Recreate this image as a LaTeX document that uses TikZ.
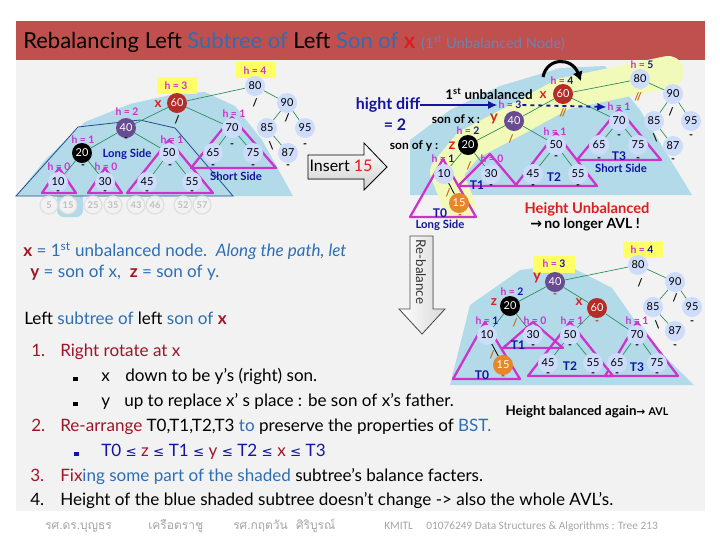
\documentclass[tikz,border=0pt]{standalone}
\usepackage{fontspec}
\setmainfont{Lato}
\newfontfamily\thaifont[Script=Thai]{Loma}
\newfontfamily\footfont{Carlito}
\newfontfamily\dvs{DejaVu Sans}
\usetikzlibrary{arrows.meta}
\pgfdeclarelayer{bg}
\pgfdeclarelayer{mid}
\pgfsetlayers{bg,mid,main}
\newcommand{\myfs}[1]{\fontsize{#1}{#1}\selectfont}
\definecolor{barred}{RGB}{192,80,77}
\definecolor{slidebg}{RGB}{242,242,242}
\definecolor{tblue}{RGB}{46,110,180}
\definecolor{sblue}{RGB}{110,130,175}
\definecolor{dred}{RGB}{160,20,40}
\definecolor{redx}{RGB}{220,30,30}
\definecolor{navy}{RGB}{20,20,160}
\definecolor{mag}{RGB}{204,51,204}
\definecolor{hlyel}{RGB}{255,255,102}
\definecolor{shadeblue}{RGB}{178,218,232}
\definecolor{bandyel}{RGB}{242,250,185}
\definecolor{nodeb}{RGB}{205,220,250}
\definecolor{edgeg}{RGB}{40,140,90}
\definecolor{redn}{RGB}{180,45,40}
\definecolor{purn}{RGB}{105,75,145}
\definecolor{orn}{RGB}{230,135,45}
\definecolor{foot}{RGB}{165,165,165}
\definecolor{brn}{RGB}{200,100,0}
\definecolor{outl}{RGB}{30,80,140}
\begin{document}
\begin{tikzpicture}[x=0.75pt,y=-0.75pt,
 tn/.style={circle,inner sep=0pt,minimum size=15pt,fill=nodeb,font=\myfs{8.2}},
 rn/.style={tn,fill=redn,text=white},
 pn/.style={tn,fill=purn,text=white},
 kn/.style={tn,fill=black,text=white},
 on/.style={tn,fill=orn,text=white},
 lf/.style={circle,inner sep=0pt,minimum size=13.5pt,draw=gray!25,line width=0.9pt,fill=slidebg,text=gray!50,font=\myfs{7}\bfseries},
 ed/.style={draw=edgeg,line width=0.5pt},
 tri/.style={draw=mag,line width=1.7pt,line join=round},
 hl/.style={text=mag,font=\myfs{7.8}\bfseries,inner sep=0.5pt},
 bm/.style={font=\myfs{8}\bfseries,inner sep=0pt},
 side/.style={text=navy,font=\myfs{8.5}\bfseries,inner sep=0pt},
 tl/.style={text=navy,font=\myfs{9}\bfseries,inner sep=0pt},
 letter/.style={text=redx,font=\myfs{10}\bfseries,inner sep=0pt},
 txt/.style={anchor=base west,inner sep=0pt,font=\myfs{12.8}},
 ftxt/.style={anchor=base west,inner sep=0pt,text=foot,font=\myfs{8.5}},
 blk/.style={text=black,font=\myfs{9}\bfseries,inner sep=0pt},
]
\useasboundingbox (0,0) rectangle (720,540);
\begin{pgfonlayer}{bg}
\fill[white] (0,0) rectangle (720,540);
\fill[slidebg] (16,60) rectangle (705,511);
\fill[barred] (16,21) rectangle (705,60);
\end{pgfonlayer}
\node[anchor=base west,inner sep=0pt,font=\myfs{16.5}] (title) at (23,48)
 {Rebalancing Left \textcolor{tblue}{Subtree of} Left \textcolor{tblue}{Son of} \textcolor{redx}{\textbf{x}} {\myfs{11}\textcolor{sblue}{(1\textsuperscript{st} Unbalanced Node)}}};

% ---------------- top-left tree ----------------
\node[tn] (A80) at (255,86) {80};
\node[tn] (A90) at (287,103) {90};
\node[tn] (A85) at (267,128) {85};
\node[tn] (A95) at (305,128) {95};
\node[tn] (A87) at (288,153) {87};
\node[rn] (A60) at (177,103) {60};
\node[pn] (A40) at (126,128) {40};
\node[tn] (A70) at (232,128) {70};
\node[kn] (A20) at (82,153) {20};
\node[tn] (A50) at (169,153) {50};
\node[tn] (A65) at (213,153) {65};
\node[tn] (A75) at (253,153) {75};
\node[tn] (A10) at (58,182) {10};
\node[tn] (A30) at (105,182) {30};
\node[tn] (A45) at (147,182) {45};
\node[tn] (A55) at (192,182) {55};
\node[lf] (L5) at (49,205) {5};
\node[lf] (L15) at (68,205) {15};
\node[lf] (L25) at (93,205) {25};
\node[lf] (L35) at (113,205) {35};
\node[lf] (L43) at (136,205) {43};
\node[lf] (L46) at (155,205) {46};
\node[lf] (L52) at (183,205) {52};
\node[lf] (L57) at (202,205) {57};
\node[hl] (Ah4) at (255,71) {h = 4};
\node[hl] (Ah3) at (176,86) {h = 3};
\node[hl] (Ah2) at (127,112) {h = 2};
\node[hl] (Ah20) at (83,140) {h = 1};
\node[hl] (Ah50) at (172,140) {h = 1};
\node[hl] (Ah70) at (234,114) {h = 1};
\node[hl] (Ah10) at (59,167) {h = 0};
\node[hl] (Ah30) at (106,167) {h = 0};
\node[letter] (Ax) at (158,104) {x};
\node[bm] (Ab80) at (255,103) {/};
\node[bm] (Ab90) at (287,118) {/};
\node[bm] (Ab85) at (271,146) {\textbackslash};
\node[bm] (Ab95) at (305,146) {-};
\node[bm] (Ab87) at (288,167) {-};
\node[bm] (Ab60) at (177,120) {/};
\node[bm] (Ab40) at (126,140) {-};
\node[bm] (Ab20) at (83,167) {-};
\node[bm] (Ab50) at (170,167) {-};
\node[bm] (Ab70) at (232,146) {-};
\node[bm] (Ab65) at (213,167) {-};
\node[bm] (Ab75) at (253,167) {-};
\node[bm] (Ab10) at (58,193) {-};
\node[bm] (Ab30) at (105,193) {-};
\node[bm] (Ab45) at (147,193) {-};
\node[bm] (Ab55) at (192,193) {-};
\node[side] (Along) at (127,154) {Long Side};
\node[side] (Ashort) at (236,176) {Short Side};

% ---------------- middle tree ----------------
\node[tn] (B80) at (640,79) {80};
\node[tn] (B90) at (673,94) {90};
\node[tn] (B85) at (654,121) {85};
\node[tn] (B95) at (691,121) {95};
\node[tn] (B87) at (673,146) {87};
\node[rn] (B60) at (563,94) {60};
\node[pn] (B40) at (514,121) {40};
\node[tn] (B70) at (619,121) {70};
\node[kn] (B20) at (468,145) {20};
\node[tn] (B50) at (556,145) {50};
\node[tn] (B65) at (599,145) {65};
\node[tn] (B75) at (638,145) {75};
\node[tn] (B10) at (444,174) {10};
\node[tn] (B30) at (491,174) {30};
\node[tn] (B45) at (533,174) {45};
\node[tn] (B55) at (578,174) {55};
\node[on] (B15) at (459,203) {15};
\node[hl] (Bh5) at (642,65) {h = \textcolor{navy}{5}};
\node[hl] (Bh4) at (562,81) {h = \textcolor{navy}{4}};
\node[hl] (Bh3) at (510,105) {h = \textcolor{navy}{3}};
\node[hl] (Bh2) at (468,131) {h = \textcolor{navy}{2}};
\node[hl] (Bh10) at (443,159) {h = \textcolor{navy}{1}};
\node[hl] (Bh30) at (492,159) {h = 0};
\node[hl] (Bh50) at (555,132) {h = 1};
\node[hl] (Bh70) at (619,107) {h = 1};
\node[letter] (Bx) at (543,95) {x};
\node[letter,font=\myfs{11}\bfseries] (By) at (494,119) {y};
\node[letter,font=\myfs{11}\bfseries] (Bz) at (452,146) {z};
\node[bm,text=brn] (Bb80) at (638,97) {//};
\node[bm,text=brn] (Bb60) at (563,113) {//};
\node[bm,text=brn] (Bb40) at (511,139) {/};
\node[bm,text=brn] (Bb20) at (469,166) {/};
\node[bm,text=brn] (Bb10) at (448,193) {/};
\node[bm,text=redx] (Bb15) at (460,217) {-};
\node[bm] (Bb30) at (491,187) {-};
\node[bm] (Bb50) at (556,158) {-};
\node[bm] (Bb45) at (533,187) {-};
\node[bm] (Bb55) at (578,187) {-};
\node[bm] (Bb70) at (619,137) {-};
\node[bm] (Bb65) at (599,160) {-};
\node[bm] (Bb75) at (638,160) {-};
\node[bm] (Bb90) at (671,112) {/};
\node[bm] (Bb85) at (655,138) {\textbackslash};
\node[bm] (Bb95) at (691,137) {-};
\node[bm] (Bb87) at (673,161) {-};
\node[tl] (BT0) at (440,213) {T0};
\node[tl] (BT1) at (477,185) {T1};
\node[tl] (BT2) at (554,177) {T2};
\node[tl] (BT3) at (619,156) {T3};
\node[side] (Blong) at (440,225) {Long Side};
\node[side] (Bshort) at (621,168) {Short Side};
\node[blk,font=\myfs{10}\bfseries] (unb) at (489,94) {1\textsuperscript{st} unbalanced};
\node[blk] (sox) at (456,119) {son of x :};
\node[blk] (soy) at (414,146) {son of y :};
\node[inner sep=0pt,text=navy,font=\myfs{12}\bfseries] (hd) at (388,105) {hight diff};
\node[inner sep=0pt,text=navy,font=\myfs{12}\bfseries] (eq2) at (395,125) {= 2};
\node[inner sep=0pt,text=redx,font=\myfs{11}\bfseries] (hu) at (587,209) {Height Unbalanced};
\node[inner sep=0pt,font=\myfs{10.5}\bfseries] (nl) at (585,225) {{\dvs\char"2192}\,no longer AVL !};
\draw[-{Latex[length=7pt,width=6pt]},navy,line width=1.8pt] (hd.east) -- (Bh3.west);
\draw[-{Latex[length=7pt,width=6pt]},navy,line width=1.4pt,dashed] (Bh3.east) -- (Bh70.west);
\coordinate (ca) at (543,77);
\coordinate (cb) at (581,81);
\draw[-{Latex[length=7pt,width=8pt]},line width=2.3pt] (ca) .. controls (547,57) and (572,57) .. (cb);

% Insert arrow
\fill[top color=white,bottom color=gray!35,draw=black,line width=0.6pt] (308,155) -- (364,155) -- (364,143) -- (387,167) -- (364,190) -- (364,179) -- (308,179) -- cycle;
\node[inner sep=0pt,font=\myfs{12}] (ins) at (341,166) {Insert \textcolor{redx}{15}};

% Re-balance arrow
\fill[left color=white,right color=gray!30,draw=black!70,line width=0.6pt] (410,236) -- (433,236) -- (433,309) -- (445,309) -- (422,334) -- (399,309) -- (410,309) -- cycle;
\node[inner sep=0pt,rotate=-90,font=\myfs{10},text=black!80] (reb) at (421,272) {Re-balance};

% ---------------- bottom-right tree ----------------
\node[tn] (C80) at (638,265) {80};
\node[tn] (C90) at (675,282) {90};
\node[tn] (C85) at (653,307) {85};
\node[tn] (C95) at (692,307) {95};
\node[tn] (C87) at (675,331) {87};
\node[pn] (C40) at (555,282) {40};
\node[kn] (C20) at (510,306) {20};
\node[rn] (C60) at (597,308) {60};
\node[tn] (C10) at (487,335) {10};
\node[tn] (C30) at (533,335) {30};
\node[tn] (C50) at (570,335) {50};
\node[tn] (C70) at (637,335) {70};
\node[on] (C15) at (503,365) {15};
\node[tn] (C45) at (548,363) {45};
\node[tn] (C55) at (593,363) {55};
\node[tn] (C65) at (617,363) {65};
\node[tn] (C75) at (657,363) {75};
\node[hl] (Ch4) at (642,250) {h = \textcolor{navy}{4}};
\node[hl] (Ch3) at (554,264) {h = \textcolor{navy}{3}};
\node[hl] (Ch2) at (512,292) {h = \textcolor{navy}{2}};
\node[hl] (Ch10) at (487,321) {h = \textcolor{navy}{1}};
\node[hl] (Ch30) at (535,321) {h = 0};
\node[hl] (Ch50) at (572,321) {h = 1};
\node[hl] (Ch70) at (637,321) {h = 1};
\node[letter,font=\myfs{11}\bfseries] (Cy) at (537,278) {y};
\node[letter] (Cz) at (494,302) {z};
\node[letter] (Cx) at (579,302) {x};
\node[bm] (Cb80) at (640,283) {/};
\node[bm] (Cb90) at (675,298) {/};
\node[bm] (Cb85) at (657,325) {\textbackslash};
\node[bm] (Cb95) at (692,323) {-};
\node[bm] (Cb87) at (675,347) {-};
\node[bm,text=redn] (Cb40) at (555,296) {-};
\node[bm,text=brn] (Cb20) at (515,323) {/};
\node[bm,text=redn] (Cb60) at (597,323) {-};
\node[bm,text=brn] (Cb10) at (492,355) {/};
\node[bm,text=redx] (Cb15) at (503,378) {-};
\node[bm] (Cb30) at (533,347) {-};
\node[bm] (Cb50) at (570,347) {-};
\node[bm] (Cb45) at (548,375) {-};
\node[bm] (Cb55) at (593,375) {-};
\node[bm] (Cb70) at (637,347) {-};
\node[bm] (Cb65) at (617,375) {-};
\node[bm] (Cb75) at (657,375) {-};
\node[tl] (CT0) at (482,375) {T0};
\node[tl] (CT1) at (518,345) {T1};
\node[tl] (CT2) at (570,366) {T2};
\node[tl] (CT3) at (637,367) {T3};
\node[inner sep=0pt,font=\myfs{10}\bfseries] (hba) at (587,412) {Height balanced again{\dvs\myfs{8}\char"2192} {\myfs{8}AVL}};

% ---------------- text block ----------------
\node[txt] (l1) at (23,256) {\textcolor{dred}{\textbf{x}} \textcolor{tblue}{= 1\textsuperscript{st} unbalanced node.\ \ \textit{Along the path, let}}};
\node[txt] (l2) at (30,277) {\textcolor{dred}{\textbf{y}} \textcolor{tblue}{= son of x,\ \ }\textcolor{dred}{\textbf{z}} \textcolor{tblue}{= son of y.}};
\node[txt] (l3) at (24,324) {Left \textcolor{tblue}{subtree of} left \textcolor{tblue}{son of} \textcolor{dred}{\textbf{x}}};
\node[txt,text=dred] (n1) at (31,356) {1.};
\node[txt,text=dred] (r1) at (60,356) {Right rotate at x};
\node[txt] (b1) at (73,381) {\rule{3.2pt}{3.2pt}};
\node[txt] (b1x) at (101,381) {x};
\node[txt] (b1t) at (125,381) {down to be y's (right) son.};
\node[txt] (b2) at (73,406) {\rule{3.2pt}{3.2pt}};
\node[txt] (b2y) at (101,406) {y};
\node[txt] (b2t) at (124,406) {up to replace x' s place : be son of x's father.};
\node[txt,text=dred] (n2) at (31,431) {2.};
\node[txt] (r2) at (60,431) {\textcolor{dred}{Re-arrange} T0,T1,T2,T3 \textcolor{tblue}{to} preserve the properties of \textcolor{tblue}{BST.}};
\node[txt,text=navy] (b3) at (74,456) {\rule{3.2pt}{3.2pt}};
\node[txt,text=navy] (b3t) at (101,456) {T0 {\dvs\myfs{10}≤} \textcolor{dred}{z} {\dvs\myfs{10}≤} T1 {\dvs\myfs{10}≤} \textcolor{dred}{y} {\dvs\myfs{10}≤} T2 {\dvs\myfs{10}≤} \textcolor{dred}{x} {\dvs\myfs{10}≤} T3};
\node[txt,text=dred] (n3) at (30,481) {3.};
\node[txt] (r3) at (60,481) {\textcolor{dred}{Fix}\textcolor{tblue}{ing some part of the shaded} subtree's balance facters.};
\node[txt] (n4) at (30,505) {4.};
\node[txt] (r4) at (60,505) {Height of the blue shaded subtree doesn't change -> also the whole AVL's.};

% footer
\node[ftxt,font=\thaifont\myfs{9}] (f1) at (45,529) {รศ.ดร.บุญธร};
\node[ftxt,font=\thaifont\myfs{9}] (f2) at (148,529) {เครือตราชู};
\node[ftxt,font=\thaifont\myfs{9}] (f3) at (233,529) {รศ.กฤตวัน\ \ ศิริบูรณ์};
\node[ftxt,font=\footfont\myfs{8.5}] (f4) at (384,529) {KMITL};
\node[ftxt,font=\footfont\myfs{8.5}] (f5) at (426,529) {01076249 Data Structures \& Algorithms : Tree 213};

% ---------------- background shading ----------------
\begin{pgfonlayer}{bg}
\fill[shadeblue] (16,196) -- (45,160) -- (85,122) -- (130,104) -- (175,94) -- (205,92) -- (235,106) -- (262,140) -- (293,196) -- cycle;
\fill[shadeblue,rounded corners=5pt] (57,190) rectangle (83,217);
\draw[outl,line width=0.6pt] (16,196) -- (78,127) -- (140,120) -- (175,128) -- (233,196) -- cycle;
\fill[hlyel] (236,62) rectangle (276,78);
\fill[hlyel] (157,77) rectangle (197,94);
\fill[shadeblue] (410,195) -- (410,140) -- (450,110) -- (500,86) -- (560,68) -- (605,66) -- (640,110) -- (692,195) -- cycle;
\draw[bandyel,line width=24pt,line cap=round,line join=round] (668,72) -- (563,94) -- (514,121) -- (468,145) -- (446,172) -- (459,205);
\fill[shadeblue] (450,385) -- (470,305) -- (520,270) -- (565,264) -- (612,288) -- (650,342) -- (694,385) -- cycle;
\fill[hlyel] (533,256) rectangle (575,273);
\fill[hlyel] (623,242) rectangle (663,258);
\end{pgfonlayer}

% ---------------- edges and triangles ----------------
\begin{pgfonlayer}{mid}
\foreach \p/\c in {80/60,80/90,90/85,90/95,85/87,60/40,60/70,40/20,40/50,20/10,20/30,50/45,50/55,70/65,70/75}{
  \draw[ed] (A\p) -- (A\c);
  \draw[ed] (B\p) -- (B\c);}
\draw[black,line width=0.6pt] (B10) -- (B15);
\foreach \p/\c in {80/40,80/90,90/85,90/95,85/87,40/20,40/60,20/10,20/30,60/50,60/70,50/45,50/55,70/65,70/75}{
  \draw[ed] (C\p) -- (C\c);}
\draw[black,line width=0.6pt] (C10) -- (C15);
% top-left triangles
\draw[tri] (59,168) -- (42,193) -- (76,193) -- cycle;
\draw[tri] (105,168) -- (88,193) -- (122,193) -- cycle;
\draw[tri] (169,140) -- (127,193) -- (213,193) -- cycle;
\draw[tri] (232,117) -- (191,168) -- (276,168) -- cycle;
% middle triangles
\draw[tri] (443,159) -- (410,217) -- (476,217) -- cycle;
\draw[tri] (490,154) -- (458,186) -- (517,186) -- cycle;
\draw[tri] (556,133) -- (515,186) -- (597,186) -- cycle;
\draw[tri] (619,109) -- (577,160) -- (661,160) -- cycle;
% bottom triangles
\draw[tri] (485,322) -- (453,379) -- (520,379) -- cycle;
\draw[tri] (533,322) -- (503,348) -- (563,348) -- cycle;
\draw[tri] (570,322) -- (528,376) -- (613,376) -- cycle;
\draw[tri] (637,322) -- (605,376) -- (678,376) -- cycle;
\end{pgfonlayer}
\end{tikzpicture}
\end{document}
